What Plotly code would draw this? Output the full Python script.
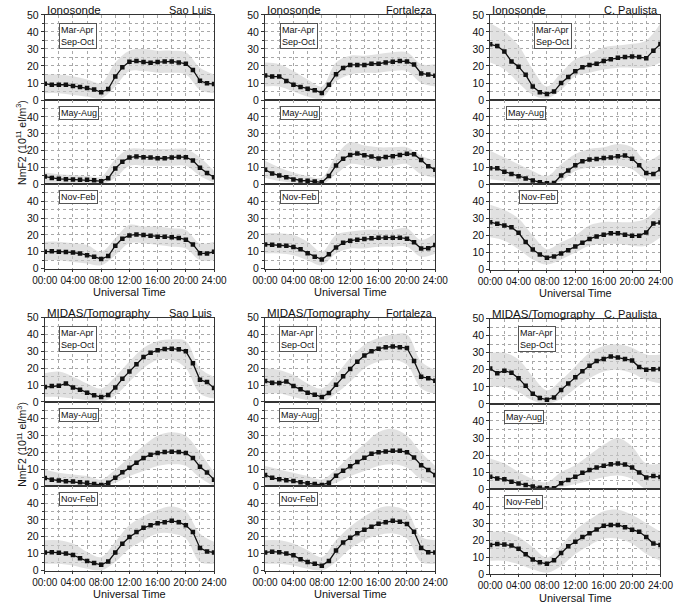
import plotly.graph_objects as go

# ---------------- data ----------------
hours = list(range(25))
env_hours = list(range(0, 25, 2))
tick_hours = [0, 4, 8, 12, 16, 20, 24]
tick_labels = ["00:00", "04:00", "08:00", "12:00", "16:00", "20:00", "24:00"]
season_labels = ["Mar-Apr<br>Sep-Oct", "May-Aug", "Nov-Feb"]
station_names = ["Sao Luis", "Fortaleza", "C. Paulista"]
source_names = ["Ionosonde", "MIDAS/Tomography"]

# hourly means (NmF2, 10^11 el/m^3) -- Ionosonde
iono_saoluis_equinox = [9.6, 9, 9, 9, 8.3, 7.7, 7.1, 6.2, 4.6, 6.5, 13.8, 19.2, 22.5, 22.9, 22.3, 21.9, 22.3, 22.7, 22.7, 22.1, 21.3, 17.7, 11.3, 9.8, 9.4]
iono_saoluis_winter = [4.6, 3.8, 3.3, 3.1, 2.9, 2.7, 2.7, 2.5, 1.9, 3.6, 9.4, 13.4, 15.9, 16.6, 16.1, 15.9, 15.5, 15.5, 15.9, 16.3, 16.1, 14.2, 9.8, 6.7, 4.2]
iono_saoluis_summer = [10.1, 10.3, 10.1, 9.9, 9.6, 9, 8, 7.1, 5.7, 7.5, 13.6, 17.8, 19.7, 20.3, 19.9, 19.5, 18.9, 18.9, 18.6, 18.2, 17.2, 14.4, 9.2, 9.0, 10.1]
iono_fortaleza_equinox = [14.4, 13.8, 13.8, 11.2, 9.0, 7.7, 6.7, 5.8, 4.2, 9.0, 15.2, 18.8, 20.6, 20.6, 20.6, 21.3, 21.3, 22.1, 22.5, 22.9, 22.7, 20.8, 15.6, 15, 14.2]
iono_fortaleza_winter = [8.7, 6.5, 5.2, 4.2, 2.9, 2.3, 2.1, 1.7, 1.2, 5, 11.2, 15.2, 17.5, 18.3, 17.3, 16.5, 15.4, 16.3, 16.7, 17.5, 18.1, 17.9, 14.4, 10.8, 8.7]
iono_fortaleza_summer = [14.4, 14.2, 13.8, 13.6, 12.8, 11.5, 9.2, 7.1, 5.4, 8.6, 12.6, 15.3, 16.6, 17.2, 17.6, 18, 18.4, 18.4, 18.4, 18.4, 17.8, 15.7, 11.9, 12.1, 14]
iono_cpaulista_equinox = [32.7, 31.7, 28.5, 22.7, 19.6, 14.8, 7.9, 4.6, 3.5, 5, 10, 13.5, 16.9, 19.2, 20.6, 21.3, 22.9, 24, 24.8, 25.2, 25.6, 25.2, 24.6, 29, 32.9]
iono_cpaulista_winter = [9.6, 9.6, 7.5, 6.2, 4.8, 3.5, 2.3, 1.2, 0.6, 0.8, 5.2, 8.3, 11.3, 13.7, 14.8, 15, 15.6, 16, 16.7, 17.1, 15.2, 11.3, 6.7, 6.2, 9]
iono_cpaulista_summer = [27.8, 26.9, 25.9, 24.9, 21.6, 16.2, 11.8, 8.9, 7, 7.7, 9.5, 11.4, 13.5, 15.7, 18, 19.5, 20.5, 21.4, 21.3, 20.5, 19.9, 19.9, 21.8, 27, 27.6]

# hourly means -- MIDAS/Tomography
midas_saoluis_equinox = [8.8, 9.4, 9.6, 11, 8.6, 7.3, 5.5, 3.9, 2.9, 4.1, 8.6, 13.7, 18, 22.4, 26.7, 29.2, 30.6, 31.4, 31.6, 31.2, 30, 23, 13.1, 11.8, 8.2]
midas_saoluis_winter = [4.9, 3.9, 3.4, 3, 2.8, 2.4, 2, 1.4, 0.8, 2, 5.1, 8.3, 11, 14, 16.8, 18.7, 19.7, 20.3, 20.5, 20.3, 19.7, 16.8, 11.6, 8.1, 3.9]
midas_saoluis_summer = [10.7, 10.9, 10.5, 10.1, 9.2, 7.3, 5.6, 4.4, 3.4, 5.4, 10.7, 15.9, 19.9, 22.8, 25.3, 26.8, 28.1, 28.7, 29.5, 28.7, 26.8, 22.8, 13.4, 11.3, 10.7]
midas_fortaleza_equinox = [12.4, 11.4, 11.2, 12.2, 9.4, 7.5, 5.5, 4.3, 2.9, 5.3, 10.2, 15.3, 19.6, 23.9, 27.6, 30, 31.6, 32.4, 32.9, 32.5, 32, 24.3, 14.9, 14.1, 12.5]
midas_fortaleza_winter = [6.7, 5, 4.2, 3.5, 3.1, 2.3, 1.7, 1.3, 0.8, 2.1, 6.2, 9.2, 11.9, 14.4, 16.9, 19.2, 20.2, 20.6, 21, 21, 20.2, 17.1, 12.5, 9.6, 6.7]
midas_fortaleza_summer = [10.7, 11.2, 10.9, 10.1, 9, 6.7, 5, 4, 2.9, 5.7, 11.8, 16.6, 19.4, 22.1, 24.2, 25.9, 27.8, 28.6, 29.5, 29, 27.6, 23, 13.3, 10.9, 10.7]
midas_cpaulista_equinox = [20.7, 18, 19.5, 18.2, 15.1, 10.7, 5.9, 3.4, 2.5, 3.8, 8.2, 11.9, 15.7, 19.2, 22.4, 25.1, 26.4, 27.8, 27.2, 26.4, 25.5, 21.6, 20.1, 20.3, 20.5]
midas_cpaulista_winter = [7.3, 6.3, 5.8, 4.4, 3.3, 2.5, 1.5, 0.8, 0.6, 0.6, 3.5, 5.4, 7.3, 9.6, 11.2, 12.7, 13.8, 14.6, 15, 14.4, 12.7, 9.8, 6.9, 7.7, 7.1]
midas_cpaulista_summer = [17.3, 17.9, 17.5, 16.9, 15, 11.9, 8.7, 7.1, 6.2, 8.3, 12.5, 16.5, 19.2, 21.9, 24.2, 26.3, 28.5, 29, 29, 27.7, 26.2, 25, 21.9, 18.1, 17.3]

# spread of individual days (lower / upper envelope every 2 h)
iono_saoluis_equinox_lo = [4, 4, 3, 2, 1, 8, 17, 17, 16, 16, 15, 6, 4]
iono_saoluis_equinox_hi = [15, 15, 14, 12, 10, 22, 29, 30, 29, 29, 28, 19, 15]
iono_saoluis_winter_lo = [1, 1, 0.5, 0.5, 0, 4, 11, 11, 11, 11, 11, 5, 1]
iono_saoluis_winter_hi = [7, 6, 5.5, 5, 4.5, 15, 21, 21, 21, 21, 21, 16, 8]
iono_saoluis_summer_lo = [5, 5, 4, 3, 2, 8, 15, 15, 14, 13, 12, 5, 5]
iono_saoluis_summer_hi = [16, 16, 15, 14, 10, 18, 26, 25, 25, 24, 23, 15, 16]
iono_fortaleza_equinox_lo = [8, 8, 5, 2, 1, 11, 15, 16, 16, 17, 17, 10, 8]
iono_fortaleza_equinox_hi = [22, 21, 17, 12, 8, 22, 26, 26, 27, 28, 28, 21, 21]
iono_fortaleza_winter_lo = [4, 2, 1, 0.5, 0, 6, 12, 11, 10, 11, 12, 6, 4]
iono_fortaleza_winter_hi = [14, 10, 7, 5, 4, 17, 25, 23, 22, 22, 22, 17, 14]
iono_fortaleza_summer_lo = [9, 9, 8, 5, 2, 9, 12, 12, 13, 13, 13, 7, 9]
iono_fortaleza_summer_hi = [21, 21, 20, 16, 10, 20, 22, 23, 23, 23, 24, 17, 21]
iono_cpaulista_equinox_lo = [22, 18, 10, 3, 1, 6, 14, 16, 18, 19, 19, 19, 22]
iono_cpaulista_equinox_hi = [45, 40, 32, 18, 8, 16, 24, 27, 31, 32, 33, 35, 45]
iono_cpaulista_winter_lo = [3, 2, 1, 0, 0, 2, 8, 10, 11, 11, 9, 3, 3]
iono_cpaulista_winter_hi = [20, 16, 12, 8, 5, 12, 18, 21, 22, 24, 22, 14, 18]
iono_cpaulista_summer_lo = [19, 17, 12, 6, 3, 6, 10, 14, 15, 15, 14, 14, 19]
iono_cpaulista_summer_hi = [38, 35, 30, 20, 12, 16, 20, 26, 28, 28, 28, 30, 38]

midas_saoluis_equinox_lo = [3, 3, 2, 1, 0, 4, 12, 20, 25, 25, 20, 5, 2]
midas_saoluis_equinox_hi = [17, 18, 15, 11, 8, 15, 24, 32, 36, 37, 36, 20, 15]
midas_saoluis_winter_lo = [0, 0, 0, 0, 0, 2, 6, 9, 12, 13, 12, 5, 0]
midas_saoluis_winter_hi = [10, 8, 7, 6, 4, 10, 17, 24, 30, 32, 30, 20, 8]
midas_saoluis_summer_lo = [4, 4, 3, 1, 0, 5, 13, 18, 22, 22, 19, 5, 4]
midas_saoluis_summer_hi = [18, 18, 16, 11, 8, 17, 27, 32, 36, 38, 35, 22, 17]
midas_fortaleza_equinox_lo = [5, 5, 3, 1, 0, 5, 12, 20, 24, 25, 22, 8, 5]
midas_fortaleza_equinox_hi = [20, 19, 16, 11, 8, 16, 26, 34, 38, 40, 40, 24, 19]
midas_fortaleza_winter_lo = [1, 0, 0, 0, 0, 2, 6, 9, 12, 13, 11, 4, 1]
midas_fortaleza_winter_hi = [12, 10, 8, 6, 4, 10, 18, 25, 32, 34, 30, 20, 12]
midas_fortaleza_summer_lo = [4, 4, 3, 1, 0, 5, 13, 18, 21, 22, 19, 5, 4]
midas_fortaleza_summer_hi = [18, 18, 16, 12, 8, 18, 26, 32, 37, 38, 35, 20, 18]
midas_cpaulista_equinox_lo = [10, 10, 7, 2, 0, 3, 9, 15, 19, 20, 18, 14, 12]
midas_cpaulista_equinox_hi = [30, 30, 26, 16, 8, 14, 22, 30, 34, 35, 33, 29, 29]
midas_cpaulista_winter_lo = [0, 0, 0, 0, 0, 1, 3, 5, 7, 8, 6, 0, 0]
midas_cpaulista_winter_hi = [18, 15, 10, 6, 4, 10, 14, 20, 26, 30, 25, 15, 15]
midas_cpaulista_summer_lo = [8, 8, 6, 3, 1, 5, 12, 17, 21, 21, 18, 12, 8]
midas_cpaulista_summer_hi = [25, 25, 22, 16, 10, 17, 26, 32, 37, 38, 35, 30, 25]

# ---------------- panel assembly ----------------
means = [
    [[iono_saoluis_equinox, iono_saoluis_winter, iono_saoluis_summer],
     [iono_fortaleza_equinox, iono_fortaleza_winter, iono_fortaleza_summer],
     [iono_cpaulista_equinox, iono_cpaulista_winter, iono_cpaulista_summer]],
    [[midas_saoluis_equinox, midas_saoluis_winter, midas_saoluis_summer],
     [midas_fortaleza_equinox, midas_fortaleza_winter, midas_fortaleza_summer],
     [midas_cpaulista_equinox, midas_cpaulista_winter, midas_cpaulista_summer]],
]
lows = [
    [[iono_saoluis_equinox_lo, iono_saoluis_winter_lo, iono_saoluis_summer_lo],
     [iono_fortaleza_equinox_lo, iono_fortaleza_winter_lo, iono_fortaleza_summer_lo],
     [iono_cpaulista_equinox_lo, iono_cpaulista_winter_lo, iono_cpaulista_summer_lo]],
    [[midas_saoluis_equinox_lo, midas_saoluis_winter_lo, midas_saoluis_summer_lo],
     [midas_fortaleza_equinox_lo, midas_fortaleza_winter_lo, midas_fortaleza_summer_lo],
     [midas_cpaulista_equinox_lo, midas_cpaulista_winter_lo, midas_cpaulista_summer_lo]],
]
highs = [
    [[iono_saoluis_equinox_hi, iono_saoluis_winter_hi, iono_saoluis_summer_hi],
     [iono_fortaleza_equinox_hi, iono_fortaleza_winter_hi, iono_fortaleza_summer_hi],
     [iono_cpaulista_equinox_hi, iono_cpaulista_winter_hi, iono_cpaulista_summer_hi]],
    [[midas_saoluis_equinox_hi, midas_saoluis_winter_hi, midas_saoluis_summer_hi],
     [midas_fortaleza_equinox_hi, midas_fortaleza_winter_hi, midas_fortaleza_summer_hi],
     [midas_cpaulista_equinox_hi, midas_cpaulista_winter_hi, midas_cpaulista_summer_hi]],
]

W, H = 685, 602
FONT = "Liberation Sans, Arial, sans-serif"
GRID = "#a8a8a8"

col_x = [(33, 209), (262, 439), (496, 673)]
# row boundaries (pixel y) per group and column
row_y = {
    (0, 0): [9, 96, 182, 268], (0, 1): [9, 96, 182, 268], (0, 2): [9, 96, 182, 269],
    (1, 0): [318, 404, 490, 576], (1, 1): [318, 404, 490, 576], (1, 2): [319, 406, 493, 580],
}
# season label box left offsets (px from axis start)
box_dx = {
    (0, 0): [15, 15, 15], (0, 1): [16, 16, 16], (0, 2): [46, 16, 30],
    (1, 0): [15, 15, 15], (1, 1): [15, 15, 15], (1, 2): [29, 14, 14],
}

def px(x):
    return x / W

def py(y):
    return 1 - y / H

fig = go.Figure()
layout = dict(width=W, height=H, margin=dict(l=0, r=0, t=0, b=0),
              plot_bgcolor="white", paper_bgcolor="white", showlegend=False,
              font=dict(family=FONT, color="#111", size=10))
annotations = []

k = 0
for g in range(2):
    for c in range(3):
        ys = row_y[(g, c)]
        for r in range(3):
            k += 1
            xa = "x" if k == 1 else f"x{k}"
            ya = "y" if k == 1 else f"y{k}"
            xkey = "xaxis" if k == 1 else f"xaxis{k}"
            ykey = "yaxis" if k == 1 else f"yaxis{k}"
            # spread band
            fig.add_trace(go.Scatter(x=env_hours, y=highs[g][c][r], mode="lines",
                                     line=dict(width=0, color="rgba(0,0,0,0)", shape="spline"),
                                     xaxis=xa, yaxis=ya, hoverinfo="skip"))
            fig.add_trace(go.Scatter(x=env_hours, y=lows[g][c][r], mode="lines",
                                     line=dict(width=0, color="rgba(0,0,0,0)", shape="spline"),
                                     fill="tonexty", fillcolor="rgba(205,205,205,0.6)",
                                     xaxis=xa, yaxis=ya, hoverinfo="skip"))
            # mean curve
            fig.add_trace(go.Scatter(x=hours, y=means[g][c][r], mode="lines+markers",
                                     line=dict(color="#111", width=1.3),
                                     marker=dict(symbol="square", size=4.5, color="#111"),
                                     xaxis=xa, yaxis=ya))
            bottom = (r == 2)
            layout[xkey] = dict(
                domain=[px(col_x[c][0]), px(col_x[c][1])], anchor=ya, range=[0, 24],
                tickvals=tick_hours, ticktext=tick_labels, showticklabels=bottom,
                tickangle=0, ticks="outside" if bottom else "", ticklen=2, tickcolor="#333",
                showline=True, mirror=True, linecolor="#333", linewidth=1,
                showgrid=True, gridcolor=GRID, griddash="dot", gridwidth=0.7,
                minor=dict(dtick=2, tick0=0, showgrid=True, gridcolor=GRID,
                           griddash="dot", gridwidth=0.7),
                zeroline=False, tickfont=dict(size=10, family=FONT),
            )
            yticks = [0, 10, 20, 30, 40, 50] if r == 0 else [0, 10, 20, 30, 40]
            layout[ykey] = dict(
                domain=[py(ys[r + 1]), py(ys[r])], anchor=xa, range=[0, 50],
                tickvals=yticks, ticks="outside", ticklen=3, tickcolor="#333",
                showline=True, mirror=True, linecolor="#333", linewidth=1,
                showgrid=True, gridcolor=GRID, griddash="dot", gridwidth=0.7,
                minor=dict(dtick=5, tick0=0, showgrid=True, ticks="outside", ticklen=2,
                           gridcolor=GRID, griddash="dot", gridwidth=0.7),
                zeroline=False, tickfont=dict(size=10.5, family=FONT),
            )
            # season label box
            top_off = 8 if r == 0 else 6
            annotations.append(dict(
                x=px(col_x[c][0] + box_dx[(g, c)][r]), y=py(ys[r] + top_off),
                xref="paper", yref="paper", xanchor="left", yanchor="top",
                text=season_labels[r], showarrow=False, align="left",
                font=dict(size=9, family=FONT, color="#111"),
                bordercolor="#555", borderwidth=1, borderpad=1, bgcolor="white"))
            if bottom:
                annotations.append(dict(
                    x=px((col_x[c][0] + col_x[c][1]) / 2), y=py(ys[3] + 16),
                    xref="paper", yref="paper", xanchor="center", yanchor="top",
                    text="Universal Time", showarrow=False,
                    font=dict(size=11, family=FONT, color="#111")))
        # headers
        annotations.append(dict(
            x=px(col_x[c][0]), y=py(ys[0] - 5), xref="paper", yref="paper",
            xanchor="left", yanchor="middle", text=source_names[g], showarrow=False,
            font=dict(size=11.5, family=FONT, color="#111")))
        annotations.append(dict(
            x=px(col_x[c][1]), y=py(ys[0] - 5), xref="paper", yref="paper",
            xanchor="right", yanchor="middle", text=station_names[c], showarrow=False,
            font=dict(size=11, family=FONT, color="#111")))
    # y title
    ys = row_y[(g, 0)]
    annotations.append(dict(
        x=px(8), y=py((ys[1] + ys[2]) / 2), xref="paper", yref="paper",
        xanchor="center", yanchor="middle", textangle=-90,
        text="NmF2 (10<sup>11</sup> el/m<sup>3</sup>)", showarrow=False,
        font=dict(size=10.5, family=FONT, color="#111")))

layout["annotations"] = annotations
fig.update_layout(**layout)
fig.write_html("out.html", config={"displayModeBar": False},
               post_script="document.body.style.margin='0px';document.body.style.padding='0px';document.documentElement.style.overflow='hidden';")
